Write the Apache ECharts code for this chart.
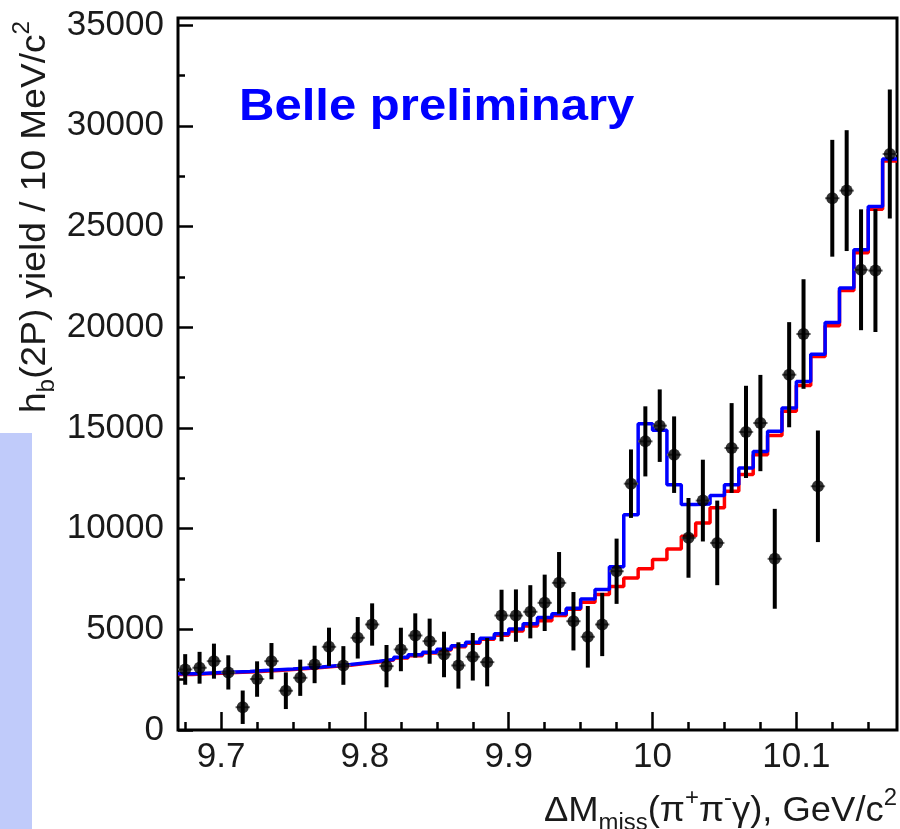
<!DOCTYPE html>
<html>
<head>
<meta charset="utf-8">
<script src="https://cdn.jsdelivr.net/npm/echarts@6/dist/echarts.min.js"></script>
<style>
  html, body { margin: 0; padding: 0; background: #ffffff; }
  #chart { width: 900px; height: 829px; }
</style>
</head>
<body>
<div id="chart"></div>
<script>
// Missing-mass bins, 10 MeV wide (bin centres, GeV/c^2)
const binCenters = [
  9.675, 9.685, 9.695, 9.705, 9.715, 9.725, 9.735, 9.745, 9.755, 9.765,
  9.775, 9.785, 9.795, 9.805, 9.815, 9.825, 9.835, 9.845, 9.855, 9.865,
  9.875, 9.885, 9.895, 9.905, 9.915, 9.925, 9.935, 9.945, 9.955, 9.965,
  9.975, 9.985, 9.995, 10.005, 10.015, 10.025, 10.035, 10.045, 10.055, 10.065,
  10.075, 10.085, 10.095, 10.105, 10.115, 10.125, 10.135, 10.145, 10.155, 10.165
];
const binWidth = 0.01;

// h_b(2P) yield per bin and its uncertainty
const yieldValues = [
  3006, 3090, 3418, 2860, 1130, 2530, 3418, 1950, 2594, 3254,
  4131, 3204, 4578, 5238, 3170, 3998, 4692, 4410, 3750, 3204,
  3636, 3368, 5684, 5680, 5870, 6314, 7306, 5400, 4628, 5238,
  7882, 12230, 14330, 15110, 13670, 9540, 11390, 9290, 14000, 14800,
  15240, 8500, 17640, 19660, 12100, 26400, 26780, 22850, 22810, 28600
];
const yieldErrors = [
  760, 790, 870, 850, 830, 880, 900, 910, 900, 930,
  950, 960, 1030, 1050, 1050, 1080, 1100, 1120, 1130, 1150,
  1180, 1200, 1280, 1300, 1320, 1400, 1530, 1450, 1530, 1570,
  1620, 1700, 1740, 1800, 1900, 1980, 2030, 2100, 2230, 2290,
  2390, 2480, 2610, 2720, 2770, 2900, 3000, 3000, 3050, 3200
];

// Fit result: signal + background (blue) and background only (red)
const totalFit = [
  2790, 2820, 2850, 2880, 2910, 2950, 2990, 3030, 3080, 3130,
  3190, 3250, 3330, 3410, 3500, 3610, 3730, 3860, 4010, 4180,
  4360, 4560, 4780, 5010, 5270, 5590, 5770, 6050, 6500, 6980,
  8110, 10690, 15210, 14880, 12180, 11190, 11220, 11640, 12180, 13010,
  13830, 14830, 15990, 17300, 18660, 20230, 21940, 23840, 25990, 28350
];
const backgroundFit = [
  2760, 2790, 2820, 2850, 2880, 2920, 2960, 3000, 3050, 3100,
  3160, 3220, 3300, 3380, 3470, 3570, 3690, 3820, 3970, 4130,
  4310, 4500, 4700, 4920, 5160, 5430, 5690, 5990, 6340, 6730,
  7120, 7550, 8000, 8460, 8990, 9620, 10280, 11030, 11850, 12680,
  13670, 14620, 15820, 17110, 18540, 20070, 21820, 23700, 25860, 28250
];

// Axis ticks
const xMajorTicks = [9.7, 9.8, 9.9, 10, 10.1];
const xMinorTicks = [9.675, 9.725, 9.75, 9.775, 9.825, 9.85, 9.875, 9.925, 9.95, 9.975,
                     10.025, 10.05, 10.075, 10.125, 10.15];
const yMajorTicks = [0, 5000, 10000, 15000, 20000, 25000, 30000, 35000];
const yMinorTicks = [2500, 7500, 12500, 17500, 22500, 27500, 32500];

const X_MIN = 9.67, X_MAX = 10.17;
const Y_MIN = 0, Y_MAX = 35350;
const FONT = 'Liberation Sans, Arial, Helvetica, sans-serif';

// Histogram outline: one point on each bin's lower edge, plus the final upper edge
function histogramSteps(values) {
  const pts = binCenters.map((c, i) => [c - binWidth / 2, values[i]]);
  pts.push([binCenters[binCenters.length - 1] + binWidth / 2, values[values.length - 1]]);
  return pts;
}

const pointData = binCenters.map((c, i) => [c, yieldValues[i]]);
const errorData = binCenters.map((c, i) => [c, yieldValues[i], yieldErrors[i]]);

const chart = echarts.init(document.getElementById('chart'), null, { renderer: 'canvas' });

const xAxisCommon = {
  type: 'value', gridIndex: 0, min: X_MIN, max: X_MAX, position: 'bottom',
  axisLine: { show: false }, splitLine: { show: false }
};
const yAxisCommon = {
  type: 'value', gridIndex: 0, min: Y_MIN, max: Y_MAX, position: 'left',
  axisLine: { show: false }, splitLine: { show: false }
};

const richScripts = {
  sub: { fontSize: 23, fontFamily: FONT, fill: '#1a1a1a', lineHeight: 23, verticalAlign: 'bottom' },
  sup: { fontSize: 23, fontFamily: FONT, fill: '#1a1a1a', lineHeight: 23, verticalAlign: 'top' }
};

chart.setOption({
  animation: false,
  backgroundColor: '#ffffff',
  grid: {
    left: 178, top: 18, width: 719, height: 712,
    show: true, borderColor: '#000000', borderWidth: 3, backgroundColor: 'transparent'
  },
  xAxis: [
    Object.assign({}, xAxisCommon, {
      axisTick: { show: true, inside: true, length: 18, customValues: xMajorTicks,
                  lineStyle: { color: '#000', width: 2.5 } },
      axisLabel: { show: true, customValues: xMajorTicks, margin: 10,
                   fontSize: 35, fontFamily: FONT, color: '#1a1a1a',
                   formatter: v => String(v) }
    }),
    Object.assign({}, xAxisCommon, {
      axisTick: { show: true, inside: true, length: 8, customValues: xMinorTicks,
                  lineStyle: { color: '#000', width: 2.5 } },
      axisLabel: { show: false }
    })
  ],
  yAxis: [
    Object.assign({}, yAxisCommon, {
      axisTick: { show: true, inside: true, length: 15, customValues: yMajorTicks,
                  lineStyle: { color: '#000', width: 2.5 } },
      axisLabel: { show: true, customValues: yMajorTicks, margin: 14,
                   fontSize: 35, fontFamily: FONT, color: '#1a1a1a',
                   formatter: v => String(v) }
    }),
    Object.assign({}, yAxisCommon, {
      axisTick: { show: true, inside: true, length: 7, customValues: yMinorTicks,
                  lineStyle: { color: '#000', width: 2.5 } },
      axisLabel: { show: false }
    })
  ],
  series: [
    {
      name: 'background', type: 'line', xAxisIndex: 0, yAxisIndex: 0,
      step: 'end', data: histogramSteps(backgroundFit), symbol: 'none',
      lineStyle: { color: '#ff0000', width: 3.5 }, z: 3
    },
    {
      name: 'signal + background', type: 'line', xAxisIndex: 0, yAxisIndex: 0,
      step: 'end', data: histogramSteps(totalFit), symbol: 'none',
      lineStyle: { color: '#0000ff', width: 3.5 }, z: 4
    },
    {
      name: 'errors', type: 'custom', xAxisIndex: 0, yAxisIndex: 0,
      data: errorData, encode: { x: 0, y: 1 }, z: 5,
      renderItem: function (params, api) {
        const x = api.value(0), y = api.value(1), e = api.value(2);
        const top = api.coord([x, y + e]);
        const bot = api.coord([x, y - e]);
        const lft = api.coord([x - binWidth / 2, y]);
        const rgt = api.coord([x + binWidth / 2, y]);
        return {
          type: 'group',
          children: [
            { type: 'line', shape: { x1: lft[0], y1: lft[1], x2: rgt[0], y2: rgt[1] },
              style: { stroke: '#6a6a6a', lineWidth: 2 } },
            { type: 'line', shape: { x1: top[0], y1: top[1], x2: bot[0], y2: bot[1] },
              style: { stroke: '#000000', lineWidth: 4 } }
          ]
        };
      }
    },
    {
      name: 'data', type: 'scatter', xAxisIndex: 0, yAxisIndex: 0,
      data: pointData, symbol: 'circle', symbolSize: 12,
      itemStyle: { color: '#000000' }, z: 6
    }
  ],
  graphic: [
    { type: 'rect', left: 0, top: 433, shape: { width: 32, height: 396 },
      style: { fill: '#c0cbfa' }, silent: true },
    { type: 'text', x: 239, y: 108, scaleX: 1.09,
      style: { text: 'Belle preliminary', fill: '#0000ff', fontSize: 45, fontWeight: 'bold',
               fontFamily: FONT, align: 'left', verticalAlign: 'middle' } },
    { type: 'text', x: 35, y: 217, rotation: Math.PI / 2, scaleX: 1.06,
      style: {
        text: 'h{sub|b}(2P) yield / 10 MeV/c{sup|2}',
        fill: '#1a1a1a', fontSize: 35, fontFamily: FONT, lineHeight: 48,
        align: 'center', verticalAlign: 'middle', rich: richScripts
      } },
    { type: 'text', x: 897, y: 811, scaleX: 1.04,
      style: {
        text: 'ΔM{sub|miss}(π{sup|+}π{sup|-}γ), GeV/c{sup|2}',
        fill: '#1a1a1a', fontSize: 35, fontFamily: FONT, lineHeight: 48,
        align: 'right', verticalAlign: 'middle', rich: richScripts
      } }
  ]
});
</script>
</body>
</html>
